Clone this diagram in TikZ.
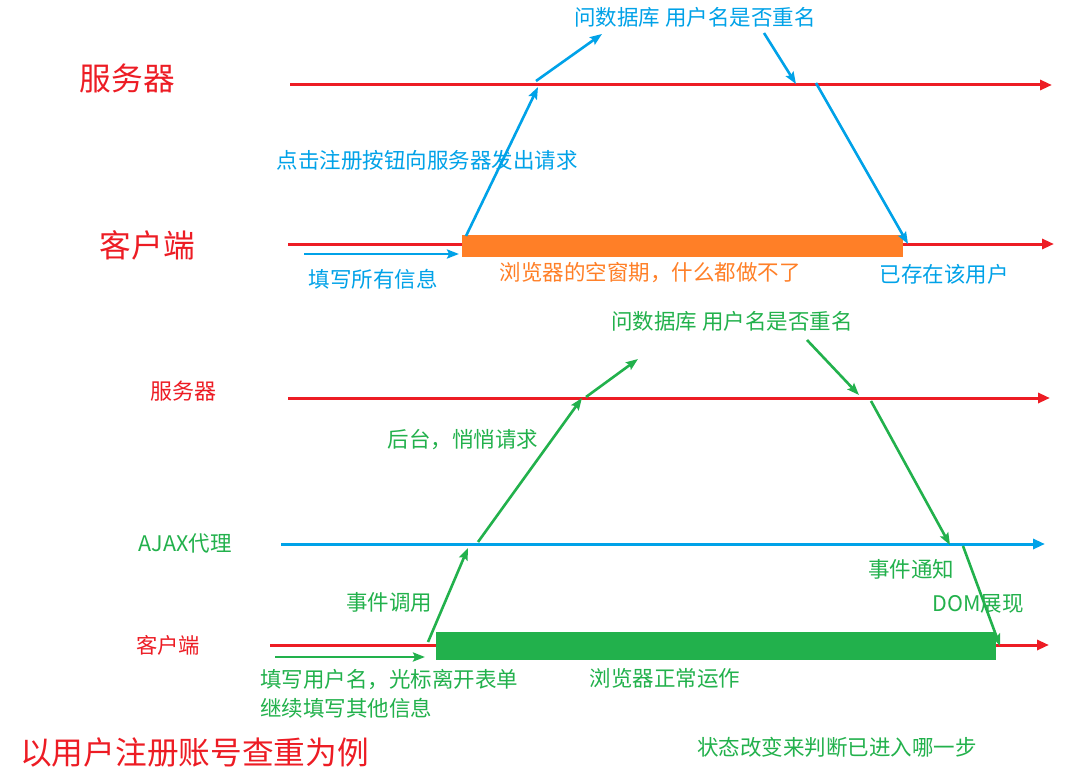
\documentclass[tikz,border=0pt]{standalone}
\usepackage{fontspec}
\setmainfont{Noto Sans CJK SC}
\usetikzlibrary{arrows.meta}
\definecolor{cred}{HTML}{ED1C24}
\definecolor{cblue}{HTML}{00A2E8}
\definecolor{corange}{HTML}{FF7F27}
\definecolor{cgreen}{HTML}{22B14C}
\begin{document}
\begin{tikzpicture}[x=1pt,y=-1pt,
  lbl/.style={inner sep=0pt, font=\fontsize{21.5}{24}\selectfont},
  biglbl/.style={inner sep=0pt, font=\fontsize{31.7}{34}\selectfont},
  timeline/.style={line width=3pt, -{Triangle[length=12pt,width=10pt]}},
  msg/.style={line width=2.6pt, -{Stealth[length=12pt,width=9pt,inset=2pt]}},
  barbox/.style={rectangle, inner sep=0pt, draw=none}
]
\useasboundingbox (0,0) rectangle (1082,781);
\fill[white] (0,0) rectangle (1082,781);

% ---------- top section ----------
\node[biglbl, text=cred] (srv1) at (127.5,78) {服务器};
\node[biglbl, text=cred] (cli1) at (147.5,245) {客户端};

\coordinate (s1a) at (290,85);  \coordinate (s1b) at (1052,85);
\coordinate (c1a) at (288,244); \coordinate (c1b) at (1054,244);
\draw[timeline, cred] (s1a) -- (s1b);
\draw[timeline, cred] (c1a) -- (c1b);

\node[barbox, fill=corange, minimum width=441pt, minimum height=22pt] (bar1) at (682.5,246) {};

\coordinate (a1s) at (304,254); \coordinate (a1e) at (459,254);
\coordinate (a2s) at (466,236); \coordinate (a2e) at (538,87);
\coordinate (a3s) at (536,81);  \coordinate (a3e) at (602,34);
\coordinate (a4s) at (764,33);  \coordinate (a4e) at (796,84);
\coordinate (a5s) at (816,83);  \coordinate (a5e) at (908,244);
\draw[msg, cblue] (a1s) -- (a1e);
\draw[msg, cblue] (a2s) -- (a2e);
\draw[msg, cblue] (a3s) -- (a3e);
\draw[msg, cblue] (a4s) -- (a4e);
\draw[msg, cblue] (a5s) -- (a5e);

\node[lbl, text=cblue] (t1) at (427,160) {点击注册按钮向服务器发出请求};
\node[lbl, text=cblue] (t2) at (695,17) {问数据库 用户名是否重名};
\node[lbl, text=cblue] (t3) at (373,279) {填写所有信息};
\node[lbl, text=corange] (t4) at (650,273) {浏览器的空窗期，什么都做不了};
\node[lbl, text=cblue] (t5) at (944,274) {已存在该用户};

% ---------- bottom section ----------
\node[lbl, text=cred, font=\fontsize{22}{24}\selectfont] (srv2) at (183,391) {服务器};
\node[lbl, text=cgreen, font=\fontsize{21.5}{24}\selectfont] (ajax) at (185,543) {AJAX代理};
\node[lbl, text=cred, font=\fontsize{21.3}{24}\selectfont] (cli2) at (168,645) {客户端};

\coordinate (s2a) at (288,398); \coordinate (s2b) at (1050,398);
\coordinate (j2a) at (281,544); \coordinate (j2b) at (1045,544);
\coordinate (c2a) at (270,645); \coordinate (c2b) at (1049,645);
\draw[timeline, cred] (s2a) -- (s2b);
\draw[timeline, cblue] (j2a) -- (j2b);
\draw[timeline, cred] (c2a) -- (c2b);

\node[barbox, fill=cgreen, minimum width=560pt, minimum height=28pt] (bar2) at (716,646) {};

\coordinate (b1s) at (275,657); \coordinate (b1e) at (425,657);
\coordinate (b2s) at (428,642); \coordinate (b2e) at (468,548);
\coordinate (b3s) at (478,542); \coordinate (b3e) at (582,398);
\coordinate (b4s) at (586,397); \coordinate (b4e) at (638,359);
\coordinate (b5s) at (807,340); \coordinate (b5e) at (859,395);
\coordinate (b6s) at (871,401); \coordinate (b6e) at (950,545);
\coordinate (b7s) at (963,546); \coordinate (b7e) at (1000,646);
\draw[msg, cgreen] (b1s) -- (b1e);
\draw[msg, cgreen] (b2s) -- (b2e);
\draw[msg, cgreen] (b3s) -- (b3e);
\draw[msg, cgreen] (b4s) -- (b4e);
\draw[msg, cgreen] (b5s) -- (b5e);
\draw[msg, cgreen] (b6s) -- (b6e);
\draw[msg, cgreen] (b7s) -- (b7e);

\node[lbl, text=cgreen] (u1) at (732,321) {问数据库 用户名是否重名};
\node[lbl, text=cgreen] (u2) at (463,440) {后台，悄悄请求};
\node[lbl, text=cgreen] (u3) at (389,602) {事件调用};
\node[lbl, text=cgreen] (u4) at (911,569) {事件通知};
\node[lbl, text=cgreen] (u5) at (978,604) {DOM展现};
\node[lbl, text=cgreen, anchor=west] (u6) at (260,680) {填写用户名，光标离开表单};
\node[lbl, text=cgreen, anchor=west] (u7) at (260,708) {继续填写其他信息};
\node[lbl, text=cgreen] (u8) at (665,678) {浏览器正常运作};
\node[biglbl, text=cred, anchor=west] (title) at (20,752) {以用户注册账号查重为例};
\node[lbl, text=cgreen] (u9) at (837,747) {状态改变来判断已进入哪一步};
\end{tikzpicture}
\end{document}
